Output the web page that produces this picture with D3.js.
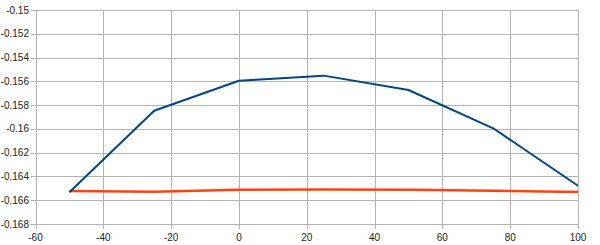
<!DOCTYPE html>
<html><head><meta charset="utf-8">
<script src="https://cdn.jsdelivr.net/npm/d3@7"></script>
<style>
html,body{margin:0;padding:0;background:#fff;}
svg{display:block;}
text{font-family:"Liberation Sans",Arial,sans-serif;font-size:10px;fill:#222;}
</style></head>
<body><svg id="c" width="600" height="245"></svg>
<script>
const xValues = [-50, -25, 0, 25, 50, 75, 100];
const seriesBlue = [-0.16533, -0.15847, -0.15595, -0.15552, -0.15673, -0.15995, -0.16478];
const seriesOrange = [-0.16522, -0.16528, -0.16512, -0.16510, -0.16512, -0.16520, -0.16530];
const xTicks = [-60, -40, -20, 0, 20, 40, 60, 80, 100];
const yTicks = [-0.168, -0.166, -0.164, -0.162, -0.16, -0.158, -0.156, -0.154, -0.152, -0.15];

const svg = d3.select("#c");
const L = 35.5, R = 578, T = 10, B = 224;
const x = d3.scaleLinear().domain([-60, 100]).range([L, R]);
const y = d3.scaleLinear().domain([-0.168, -0.15]).range([B, T]);
const gridColor = "#b3b3b3";

// horizontal grid
svg.append("g").selectAll("line").data(yTicks).join("line")
  .attr("x1", L - 5).attr("x2", R)
  .attr("y1", d => Math.round(y(d)) + 0.5).attr("y2", d => Math.round(y(d)) + 0.5)
  .attr("stroke", gridColor).attr("stroke-width", 1);
// vertical grid
svg.append("g").selectAll("line").data(xTicks).join("line")
  .attr("x1", d => Math.round(x(d)) + 0.5).attr("x2", d => Math.round(x(d)) + 0.5)
  .attr("y1", T).attr("y2", B + 5)
  .attr("stroke", gridColor).attr("stroke-width", 1);

// labels
const fmtY = d => {
  let s = d3.format(".3f")(d).replace(/0+$/, "").replace(/\.$/, "");
  return s.replace("0.", "-0.").replace("--", "-").replace(/^-?0\./, m => m);
};
svg.append("g").selectAll("text").data(yTicks).join("text")
  .attr("x", 29).attr("y", d => y(d)).attr("dy", "0.35em")
  .attr("text-anchor", "end")
  .text(d => String(+d.toFixed(3)));
svg.append("g").selectAll("text").data(xTicks).join("text")
  .attr("x", d => x(d)).attr("y", 240.5)
  .attr("text-anchor", "middle")
  .text(d => String(d));

const line = d3.line().x(d => x(d[0])).y(d => y(d[1]));
svg.append("path").datum(xValues.map((v, i) => [v, seriesOrange[i]]))
  .attr("d", line).attr("fill", "none").attr("stroke", "#ff420e")
  .attr("stroke-width", 2.5).attr("stroke-linejoin", "round");
svg.append("path").datum(xValues.map((v, i) => [v, seriesBlue[i]]))
  .attr("d", line).attr("fill", "none").attr("stroke", "#004586")
  .attr("stroke-width", 2).attr("stroke-linejoin", "round");
</script></body></html>
